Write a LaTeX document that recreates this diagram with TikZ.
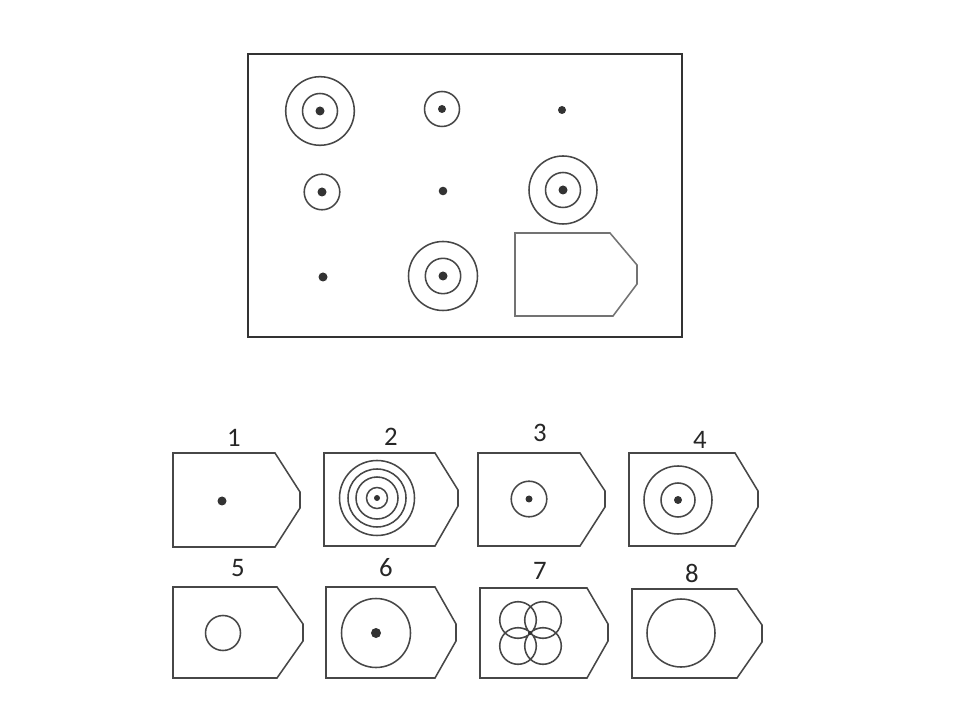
\documentclass[tikz,border=0pt]{standalone}
\usepackage{fontspec}
\setmainfont{Carlito}
\begin{document}
\begin{tikzpicture}[x=0.025cm,y=-0.025cm,
  ln/.style={draw=black!72,line width=1.1pt},
  frame/.style={draw=black!80,line width=1.4pt},
  dotc/.style={fill=black!80,draw=none},
  lbl/.style={font=\fontsize{19}{19}\selectfont,text=black!85,inner sep=0pt}]
\useasboundingbox (0,0) rectangle (960,720);
% top panel
\draw[frame] (248,54) rectangle (682,337);
% row 1
\draw[ln] (320,111) circle (34.3) (320,111) circle (17.5);
\fill[dotc] (320,111) circle (4.5);
\draw[ln] (442,109) circle (17.5);
\fill[dotc] (442,109) circle (4);
\fill[dotc] (562,110) circle (4);
% row 2
\draw[ln] (322,192) circle (17.8);
\fill[dotc] (322,192) circle (4.5);
\fill[dotc] (443,191) circle (4.3);
\draw[ln] (563,190) circle (34) (563,190) circle (17.5);
\fill[dotc] (563,190) circle (4.5);
% row 3
\fill[dotc] (323,277) circle (4.5);
\draw[ln] (443,276) circle (34.5) (443,276) circle (17.7);
\fill[dotc] (443,276) circle (4.5);
\draw[ln,draw=black!55] (515,233) -- (610,233) -- (637,265) -- (637,284) -- (613,316) -- (515,316) -- cycle;
% answer 1
\draw[ln] (173,453) -- (275,453) -- (300,492) -- (300,508) -- (275,547) -- (173,547) -- cycle;
\fill[dotc] (222,501) circle (4.5);
\node[lbl] (l1) at (234,438) {1};
% answer 2
\draw[ln] (324,453) -- (435,453) -- (458,490) -- (458,506) -- (435,546) -- (324,546) -- cycle;
\draw[ln] (377,498) circle (37.5) (377,498) circle (29) (377,498) circle (21) (377,498) circle (10.5);
\fill[dotc] (377,498) circle (3);
\node[lbl] (l2) at (391,437) {2};
% answer 3
\draw[ln] (478,453) -- (580,453) -- (605,491) -- (605,507) -- (580,546) -- (478,546) -- cycle;
\draw[ln] (529,499) circle (17.8);
\fill[dotc] (529,499) circle (3.5);
\node[lbl] (l3) at (540,433) {3};
% answer 4
\draw[ln] (629,453) -- (735,453) -- (758,491) -- (758,507) -- (735,546) -- (629,546) -- cycle;
\draw[ln] (678,500) circle (34) (678,500) circle (17);
\fill[dotc] (678,500) circle (4);
\node[lbl] (l4) at (700,440) {4};
% answer 5
\draw[ln] (173,587) -- (277,587) -- (303,624) -- (303,641) -- (277,678) -- (173,678) -- cycle;
\draw[ln] (223,633) circle (17.5);
\node[lbl] (l5) at (238,568) {5};
% answer 6
\draw[ln] (326,587) -- (435,587) -- (456,624) -- (456,641) -- (435,678) -- (326,678) -- cycle;
\draw[ln] (376,633) circle (34.5);
\fill[dotc] (376,633) circle (5);
\node[lbl] (l6) at (386,568) {6};
% answer 7
\draw[ln] (480,588) -- (587,588) -- (608,624) -- (608,641) -- (587,678) -- (480,678) -- cycle;
\draw[ln] (518,620) circle (18.3) (543,620) circle (18.3) (518,646) circle (18.3) (543,646) circle (18.3);
\fill[dotc] (530,633) circle (2);
\node[lbl] (l7) at (540,571) {7};
% answer 8
\draw[ln] (632,589) -- (737,589) -- (762,625) -- (762,642) -- (737,678) -- (632,678) -- cycle;
\draw[ln] (681,633) circle (34);
\node[lbl] (l8) at (692,573) {8};
\end{tikzpicture}
\end{document}
